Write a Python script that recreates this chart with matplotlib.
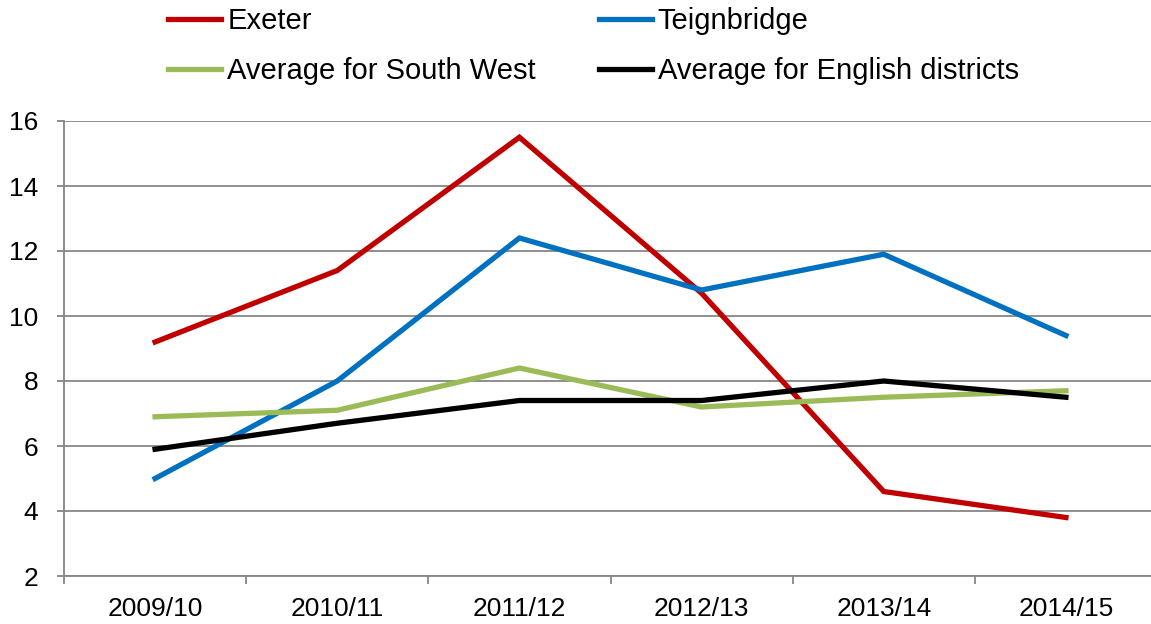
import matplotlib
matplotlib.use('Agg')
import matplotlib.pyplot as plt
import numpy as np

plt.rcParams['font.family'] = ['Liberation Sans', 'DejaVu Sans']

years = ['2009/10', '2010/11', '2011/12', '2012/13', '2013/14', '2014/15']
exeter = [9.2, 11.4, 15.5, 10.7, 4.6, 3.8]
teignbridge = [5.0, 8.0, 12.4, 10.8, 11.9, 9.4]
south_west = [6.9, 7.1, 8.4, 7.2, 7.5, 7.7]
english = [5.9, 6.7, 7.4, 7.4, 8.0, 7.5]

series = [
    ('Exeter', exeter, '#C00000'),
    ('Teignbridge', teignbridge, '#0070C0'),
    ('Average for South West', south_west, '#9BBB59'),
    ('Average for English districts', english, '#000000'),
]

fig = plt.figure(figsize=(11.51, 6.24), dpi=100)
ax = fig.add_axes([64 / 1151, 48 / 624, 1093 / 1151, 455 / 624])

x = np.arange(len(years))
lines = []
for name, vals, col in series:
    ln, = ax.plot(x, vals, color=col, linewidth=3.8, label=name, solid_joinstyle='miter')
    lines.append(ln)

ax.set_xlim(-0.5, len(years) - 0.5)
ax.set_ylim(2, 16)
ax.set_yticks(range(2, 17, 2))
ax.grid(axis='y', color='#868686', linewidth=1.3)
ax.set_axisbelow(True)

ax.set_xticks(x)
ax.set_xticklabels(years)
ax.set_xticks(np.arange(-0.5, len(years), 1), minor=True)
ax.tick_params(axis='x', which='major', length=0, pad=15, labelsize=19)
ax.tick_params(axis='x', which='minor', length=6, color='#868686', width=1.3)
ax.tick_params(axis='y', length=5, color='#868686', width=1.3, pad=13.5, labelsize=19)

for s in ['top', 'right']:
    ax.spines[s].set_visible(False)
for s in ['left', 'bottom']:
    ax.spines[s].set_color('#868686')
    ax.spines[s].set_linewidth(1.3)

# legend fills row by row in the reference
order = [0, 2, 1, 3]
fig.legend([lines[i] for i in order], [series[i][0] for i in order],
           loc='upper left', bbox_to_anchor=(168 / 1151, 1 - 7 / 624), ncol=2,
           frameon=False, fontsize=21, handlelength=1.83, handletextpad=0.2,
           columnspacing=2.15, labelspacing=0.77, borderpad=0, borderaxespad=0)

fig.savefig('out.png', dpi=100)
